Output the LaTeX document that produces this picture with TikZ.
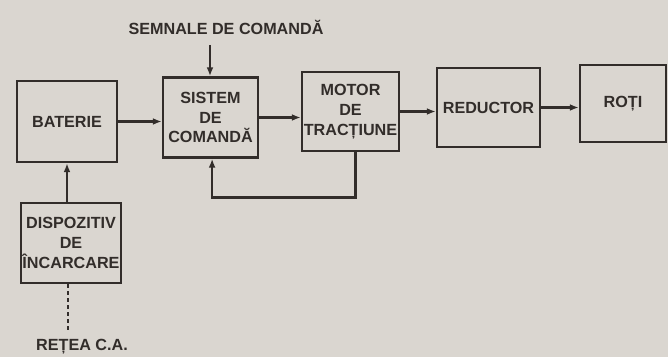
\documentclass[tikz,border=0pt]{standalone}
\usepackage{fontspec}
\setmainfont{Liberation Sans}
\usepackage{xcolor}
\definecolor{paper}{RGB}{218, 214, 208}
\definecolor{ink}{RGB}{50, 45, 42}
\usetikzlibrary{arrows.meta, positioning}
\tikzstyle{block} = [draw=ink, line width=1.8pt, align=center, inner sep=1pt, text=ink, font=\fontsize{11.5}{14}\selectfont\bfseries]

\begin{document}
\begin{tikzpicture}[x=0.25mm, y=-0.25mm, >={Latex[length=2.2mm, width=1.7mm]}]
            % Paper background (also fixes the page size)
            \fill[paper] (0, 0) rectangle (668, 357);
            
            % Blocks of the traction chain
            \node[block, minimum width=25mm, minimum height=20.25mm] (bat) at (67, 121.5) {BATERIE};
            \node[block, minimum width=23.75mm, minimum height=20mm] (sis) at (210.5, 117.5) {SISTEM\\DE\\COMANDĂ};
            \node[block, minimum width=24.25mm, minimum height=19.75mm] (mot) at (350.5, 111.5) {MOTOR\\DE\\TRACȚIUNE};
            \node[block, minimum width=25.75mm, minimum height=19.75mm] (red) at (488.5, 107.5) {REDUCTOR};
            \node[block, minimum width=21.5mm, minimum height=19.25mm] (roti) at (623, 103.5) {ROȚI};
            
            % Charger below the battery
            \node[block, minimum width=24.5mm, minimum height=20mm] (disp) at (71, 243) {DISPOZITIV\\DE\\ÎNCARCARE};
            
            % Free texts
            \node[text=ink, font=\fontsize{11.5}{14}\selectfont\bfseries] (sem) at (226, 27) {SEMNALE DE COMANDĂ};
            \node[text=ink, font=\fontsize{11.5}{14}\selectfont\bfseries] (retea) at (82, 347) {REȚEA C.A.};
            \coordinate (semin) at (210, 45);
            \coordinate (ca) at (68, 330);
            
            % Main flow
            \draw[->, ink, line width=1.8pt] (bat.east) -- (bat.east -| sis.west);
            \draw[->, ink, line width=1.8pt] (sis.east) -- (sis.east -| mot.west);
            \draw[->, ink, line width=1.8pt] (mot.east) -- (mot.east -| red.west);
            \draw[->, ink, line width=1.8pt] (red.east) -- (red.east -| roti.west);
            
            % Command signals
            \draw[->, ink, line width=1.8pt] (semin) -- (semin |- sis.north);
            
            % Feedback from the motor
            \draw[->, ink, line width=1.8pt] ([xshift=1.25mm]mot.south) -- ++(0, 45) -| ([xshift=0.4mm]sis.south);
            
            % Charging
            \draw[->, ink, line width=1.8pt] (disp.north -| bat.south) -- (bat.south);
            \draw[ink, line width=2pt, dash pattern=on 2.5pt off 2.5pt] (disp.south -| ca) -- (ca);
        \end{tikzpicture}
\end{document}
